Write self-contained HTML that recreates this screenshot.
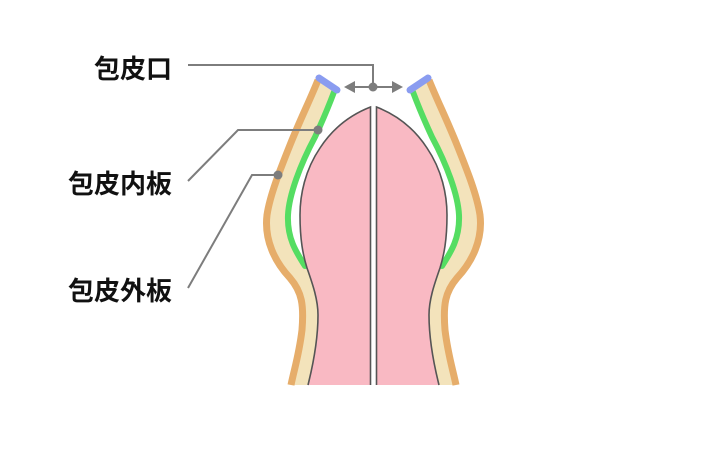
<!DOCTYPE html>
<html><head><meta charset="utf-8"><style>
html,body{margin:0;padding:0;background:#fff;}
svg{display:block;}
text{font-family:"Liberation Sans","Noto Sans CJK JP",sans-serif;font-size:26px;font-weight:bold;fill:#111;}
</style></head><body>
<svg width="716" height="454" viewBox="0 0 716 454" xmlns="http://www.w3.org/2000/svg">
<defs>
<g id="half">
  <path d="M318,80 C310,100 300,120 290,145 C280,170 270,195 267,215 C264,240 275,262 290,278 C302,292 304,305 302,330 C299,355 294,370 291,385 L308,385 C312,365 318,340 318,313 C318,295 313,280 305,265 C297,252 286,235 286,215 C287,195 300,160 317,135 C325,120 332,105 336,92 Z" fill="#f3e3bb"/>
  <path d="M318,80 C310,100 300,120 290,145 C280,170 270,195 267,215 C264,240 275,262 290,278 C302,292 304,305 302,330 C299,355 294,370 291,385" fill="none" stroke="#e6ad6a" stroke-width="7"/>
  <path d="M334,92 C328,108 322,122 315,137 C300,165 289,195 288,215 C287,238 296,252 305,266" fill="none" stroke="#55dd62" stroke-width="6" stroke-linecap="round"/>
  <path d="M319,78 L337,90" fill="none" stroke="#8a9cf0" stroke-width="7" stroke-linecap="round"/>
  <path d="M370.5,107 C350,115 333,128 320,148 C305,170 300,195 300,215 C300,240 303,255 307,268 C313,285 318,300 318,315 C318,340 313,365 308,385 L370.5,385 Z" fill="#f9b9c3"/>
  <path d="M370.5,385 L370.5,107 C350,115 333,128 320,148 C305,170 300,195 300,215 C300,240 303,255 307,268 C313,285 318,300 318,315 C318,340 313,365 308,385" fill="none" stroke="#555" stroke-width="1.6"/>
</g>
</defs>
<use href="#half"/>
<use href="#half" transform="translate(747,0) scale(-1,1)"/>

<g stroke="#7d7d7d" stroke-width="2" fill="none">
  <polyline points="188,65 373,65 373,87"/>
  <line x1="350" y1="87" x2="397" y2="87"/>
  <polyline points="188,181 238,130 318,130"/>
  <polyline points="188,288 252,175 278,175"/>
</g>
<g fill="#7d7d7d">
  <circle cx="373" cy="87" r="4.5"/>
  <circle cx="318" cy="130" r="4.5"/>
  <circle cx="278" cy="175" r="4.5"/>
  <polygon points="344,87 355,81 355,93"/>
  <polygon points="403,87 392,81 392,93"/>
</g>

<text x="172" y="78" text-anchor="end">包皮口</text>
<text x="172" y="193" text-anchor="end">包皮内板</text>
<text x="172" y="300" text-anchor="end">包皮外板</text>
</svg>
</body></html>
